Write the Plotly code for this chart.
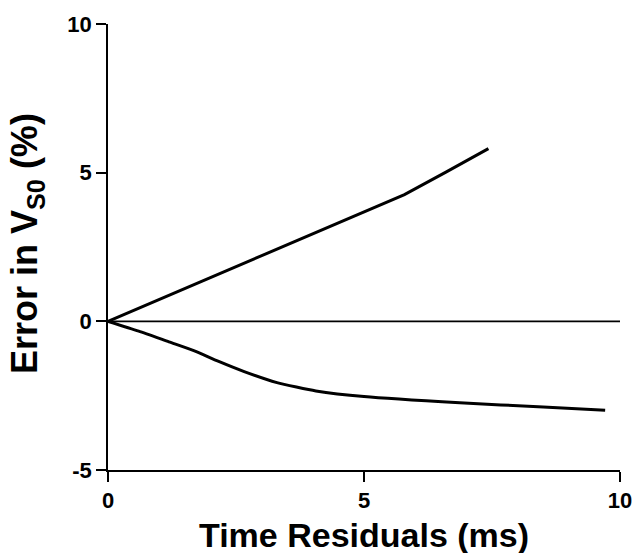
import plotly.graph_objects as go

# Data
upper_x = [0, 1.0, 2.0, 3.0, 3.68, 4.06, 4.95, 5.79, 6.6, 7.43]
upper_y = [0, 0.74, 1.47, 2.2, 2.70, 2.98, 3.64, 4.26, 5.02, 5.81]

lower_x = [0, 0.6, 1.19, 1.7, 2.15, 2.66, 3.3, 3.68, 4.06, 5.0, 6.87, 8.5, 9.71]
lower_y = [0, -0.33, -0.69, -1.0, -1.34, -1.69, -2.06, -2.21, -2.34, -2.53, -2.74, -2.88, -2.99]

zero_x = [0, 10]
zero_y = [0, 0]

x_ticks = [0, 5, 10]
y_ticks = [-5, 0, 5, 10]

FONT = "Liberation Sans, Arial, sans-serif"

fig = go.Figure()
fig.add_trace(go.Scatter(x=zero_x, y=zero_y, mode="lines",
                         line=dict(color="black", width=1.8), hoverinfo="skip"))
fig.add_trace(go.Scatter(x=upper_x, y=upper_y, mode="lines",
                         line=dict(color="black", width=3)))
fig.add_trace(go.Scatter(x=lower_x, y=lower_y, mode="lines",
                         line=dict(color="black", width=3, shape="spline", smoothing=0.6)))

fig.update_layout(
    width=644, height=553,
    margin=dict(l=108, r=14, t=20, b=83),
    paper_bgcolor="white", plot_bgcolor="white",
    showlegend=False,
    font=dict(family=FONT, color="black"),
    xaxis=dict(range=[0, 10], tickvals=x_ticks, ticktext=[str(v) for v in x_ticks],
               showgrid=False, zeroline=False,
               showline=True, linecolor="black", linewidth=1.5,
               ticks="outside", ticklen=10, tickwidth=1.5, tickcolor="black",
               tickfont=dict(family=FONT, size=22, color="black", weight="bold"),
               fixedrange=True),
    yaxis=dict(range=[-5, 10], tickvals=y_ticks, ticktext=[str(v) for v in y_ticks],
               showgrid=False, zeroline=False,
               showline=True, linecolor="black", linewidth=1.5,
               ticks="outside", ticklen=10, tickwidth=1.5, tickcolor="black",
               tickfont=dict(family=FONT, size=22, color="black", weight="bold"),
               fixedrange=True),
    annotations=[
        dict(text="<b>Time Residuals (ms)</b>", xref="paper", yref="paper",
             x=0.5, y=-0.145, yanchor="middle", xanchor="center", showarrow=False,
             font=dict(family=FONT, size=34, color="black")),
        dict(text="<b>Error in V<sub>S0</sub> (%)</b>", xref="paper", yref="paper",
             x=-0.158, y=0.507, xanchor="center", yanchor="middle", textangle=-90,
             showarrow=False, font=dict(family=FONT, size=36, color="black")),
    ],
)

fig.write_html("out.html")
